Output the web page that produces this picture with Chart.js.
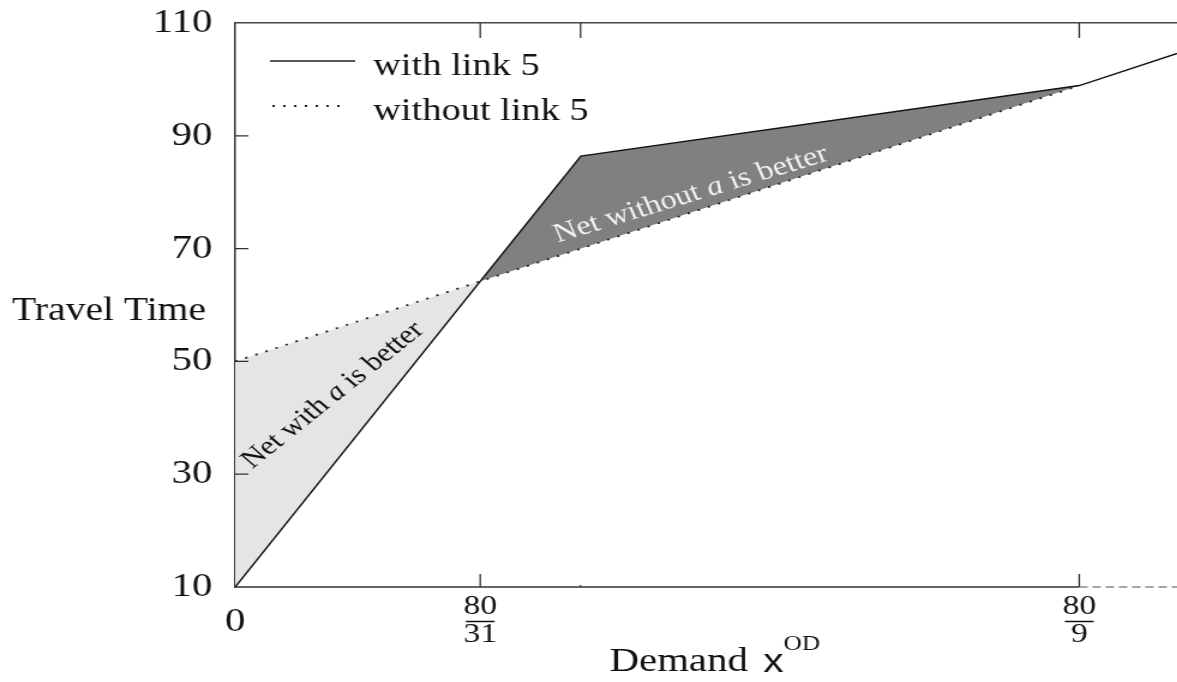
<!DOCTYPE html>
<html>
<head>
<meta charset="utf-8">
<script src="https://cdn.jsdelivr.net/npm/chart.js@4.4.0/dist/chart.umd.min.js"></script>
<style>
  html, body { margin: 0; padding: 0; background: #fff; overflow: hidden; }
  #wrap { width: 1177px; height: 682px; overflow: hidden; }
  /* the source figure is stretched horizontally */
  #c { transform: scaleX(1.2); transform-origin: 0 0; }
</style>
</head>
<body>
<div id="wrap"><canvas id="c" width="981" height="682"></canvas></div>
<script>
// values
const demand = [0, 2.58, 3.64, 8.89, 9.92];
const withLink = [10, 64.2, 86.4, 98.9, 104.6];
const demandNoLink = [0, 2.58, 3.64, 8.89];
const withoutLink = [50, 64.2, 70.0, 98.9];

const yTicks = [10, 30, 50, 70, 90, 110];
const xTicks = [0, 2.5806, 8.8889];
const xTickLabels = ['0', ['80', '31'], ['80', '9']];
const topTicks = [2.5806, 3.6364, 8.8889];

const SERIF = "'Liberation Serif', 'Times New Roman', serif";
const SANS = "'Liberation Sans', Arial, sans-serif";

function slantText(ctx, parts, cx, cy, angle, size, color) {
  ctx.save();
  ctx.translate(cx, cy);
  ctx.rotate(angle * Math.PI / 180);
  ctx.fillStyle = color;
  ctx.textBaseline = 'middle';
  ctx.textAlign = 'left';
  let total = 0;
  const widths = parts.map(([t, it]) => {
    ctx.font = (it ? 'italic ' : '') + size + 'px ' + SERIF;
    const w = ctx.measureText(t).width;
    total += w;
    return w;
  });
  let x = -total / 2;
  parts.forEach(([t, it], i) => {
    ctx.font = (it ? 'italic ' : '') + size + 'px ' + SERIF;
    ctx.fillText(t, x, 0);
    x += widths[i];
  });
  ctx.restore();
}

const deco = {
  id: 'deco',
  afterDatasetsDraw(chart) {
    const { ctx, scales: { x, y } } = chart;
    slantText(ctx, [['Net with ', false], ['a', true], [' is better', false]],
      x.getPixelForValue(1.03), y.getPixelForValue(44), -43.8, 26, '#111');
    slantText(ctx, [['Net without ', false], ['a', true], [' is better', false]],
      x.getPixelForValue(4.8), y.getPixelForValue(79.6), -20, 27, '#f2f2f2');
  },
  afterDraw(chart) {
    const { ctx, chartArea: a, scales: { x, y } } = chart;
    ctx.save();
    ctx.strokeStyle = '#333';
    ctx.lineWidth = 1.5;
    // bottom axis line: solid up to 80/9, faint dashes after it
    const x9 = x.getPixelForValue(8.8889);
    ctx.beginPath();
    ctx.moveTo(a.left, a.bottom);
    ctx.lineTo(x9, a.bottom);
    ctx.stroke();
    ctx.save();
    ctx.strokeStyle = '#888';
    ctx.setLineDash([7, 4]);
    ctx.beginPath();
    ctx.moveTo(x9, a.bottom);
    ctx.lineTo(a.right, a.bottom);
    ctx.stroke();
    ctx.restore();
    // inward ticks
    ctx.lineWidth = 1.3;
    ctx.beginPath();
    yTicks.slice(1, -1).forEach(v => {
      const py = y.getPixelForValue(v);
      ctx.moveTo(a.left, py);
      ctx.lineTo(a.left + 11, py);
    });
    topTicks.forEach(v => {
      const px = x.getPixelForValue(v);
      ctx.moveTo(px, a.top);
      ctx.lineTo(px, a.top + 15);
    });
    [2.5806, 8.8889].forEach(v => {
      const px = x.getPixelForValue(v);
      ctx.moveTo(px, a.bottom);
      ctx.lineTo(px, a.bottom - 13);
    });
    const p11 = x.getPixelForValue(3.6364);
    ctx.moveTo(p11, a.bottom);
    ctx.lineTo(p11, a.bottom - 2);
    ctx.stroke();
    // fraction bars under the tick labels
    ctx.strokeStyle = '#111';
    ctx.lineWidth = 1.3;
    ctx.beginPath();
    [2.5806, 8.8889].forEach(v => {
      const px = x.getPixelForValue(v);
      ctx.moveTo(px - 12, 621.5);
      ctx.lineTo(px + 12, 621.5);
    });
    ctx.stroke();

    // legend
    ctx.strokeStyle = '#222';
    ctx.lineWidth = 1.5;
    ctx.beginPath();
    ctx.moveTo(225, 61);
    ctx.lineTo(296, 61);
    ctx.stroke();
    ctx.setLineDash([2, 7]);
    ctx.lineWidth = 1.8;
    ctx.beginPath();
    ctx.moveTo(227, 106);
    ctx.lineTo(290, 106);
    ctx.stroke();
    ctx.setLineDash([]);
    ctx.fillStyle = '#111';
    ctx.textBaseline = 'alphabetic';
    ctx.textAlign = 'left';
    ctx.font = '32px ' + SERIF;
    ctx.fillText('with link 5', 311, 75);
    ctx.fillText('without link 5', 311, 120);

    // axis titles
    ctx.font = '33px ' + SERIF;
    ctx.fillText('Travel Time', 10, 320);
    ctx.font = '34px ' + SERIF;
    ctx.fillText('Demand', 508, 671);
    ctx.font = '34px ' + SANS;
    ctx.fillText('x', 636, 672);
    ctx.font = '21px ' + SERIF;
    ctx.fillText('OD', 653, 650);
    ctx.restore();
  }
};

const ctx = document.getElementById('c').getContext('2d');
new Chart(ctx, {
  type: 'line',
  data: {
    datasets: [
      {
        label: 'with link 5',
        data: demand.map((d, i) => ({ x: d, y: withLink[i] })),
        borderColor: '#111',
        borderWidth: 1.5,
        pointRadius: 0,
        tension: 0,
        fill: false,
      },
      {
        label: 'without link 5',
        data: demandNoLink.map((d, i) => ({ x: d, y: withoutLink[i] })),
        borderColor: '#222',
        borderWidth: 1.8,
        borderDash: [2, 7],
        pointRadius: 0,
        tension: 0,
        fill: { target: 0, above: '#e5e5e5', below: '#808080' },
      },
    ],
  },
  options: {
    responsive: false,
    animation: false,
    devicePixelRatio: 1,
    layout: { padding: { top: 23, left: 0, right: 0, bottom: 0 } },
    plugins: {
      legend: { display: false },
      tooltip: { enabled: false },
    },
    scales: {
      x: {
        type: 'linear',
        position: 'bottom',
        min: 0,
        max: 9.92,
        afterBuildTicks: (s) => { s.ticks = xTicks.map(v => ({ value: v })); },
        afterFit: (s) => { s.height = 95; },
        grid: { display: false, drawTicks: false },
        border: { display: false },
        ticks: {
          autoSkip: false,
          maxRotation: 0,
          padding: 6,
          color: '#111',
          font: (c) => c.index === 0
            ? { family: SERIF, size: 34, lineHeight: 1.7 }
            : { family: SERIF, size: 28, lineHeight: 1.0 },
          callback: (v, i) => xTickLabels[i],
        },
      },
      x2: {
        type: 'linear',
        position: 'top',
        min: 0,
        max: 9.92,
        afterFit: (s) => { s.height = 0; },
        grid: { display: false, drawTicks: false },
        border: { display: true, color: '#444', width: 1.5 },
        ticks: { display: false },
      },
      y: {
        min: 10,
        max: 110,
        afterBuildTicks: (s) => { s.ticks = yTicks.map(v => ({ value: v })); },
        afterFit: (s) => { s.width = 196; s.paddingTop = 0; s.paddingBottom = 0; },
        grid: { display: false, drawTicks: false },
        border: { display: true, color: '#333', width: 1.5 },
        ticks: {
          padding: 19,
          color: '#111',
          font: { family: SERIF, size: 34 },
        },
      },
    },
  },
  plugins: [deco],
});
</script>
</body>
</html>
